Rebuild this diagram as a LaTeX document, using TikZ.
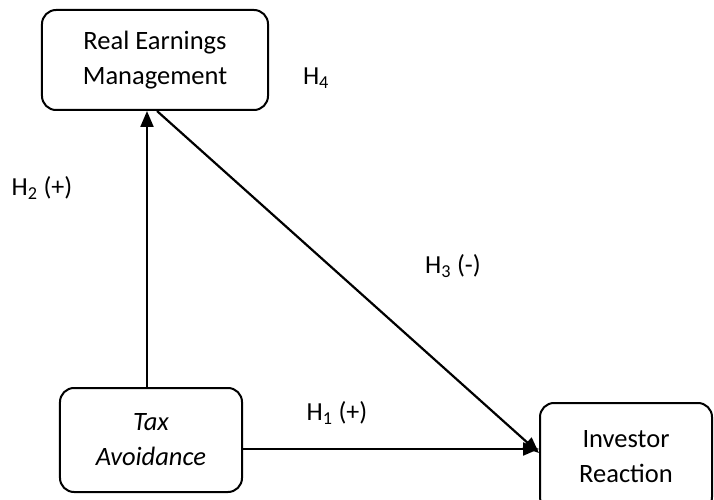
\documentclass[tikz,border=0pt]{standalone}
\usepackage{fontspec}
\setmainfont{Carlito}
\usetikzlibrary{arrows.meta,calc}
\begin{document}
\begin{tikzpicture}[x=1bp,y=-1bp,
  construct/.style={draw, line width=2bp, rounded corners=14bp, align=center,
    font=\fontsize{26.5bp}{35bp}\selectfont, inner sep=0pt},
  link/.style={line width=2.2bp, -{Triangle[length=16bp,width=13bp]}},
  hyp/.style={font=\fontsize{26bp}{30bp}\selectfont, inner sep=0pt}]
  \useasboundingbox (0,0) rectangle (714,500);
  \clip (0,0) rectangle (714,500);

  % constructs
  \node[construct, minimum width=226bp, minimum height=100bp] (rem) at (155,60)
    {Real Earnings\\Management};
  \node[construct, minimum width=182bp, minimum height=104bp] (tax) at (151,440)
    {\itshape Tax\\\itshape Avoidance};
  \node[construct, minimum width=172bp, minimum height=108bp] (inv) at (626,457)
    {Investor\\Reaction};

  % hypothesised paths
  \coordinate (taxtop) at ([xshift=-4bp]tax.north);
  \draw[link] (taxtop) -- (taxtop |- rem.south);
  \coordinate (remfoot) at ([xshift=2bp]rem.south);
  \draw[link] (remfoot) -- ([yshift=4bp]inv.west);
  \coordinate (taxside) at ([yshift=-9bp]tax.east);
  \draw[link] (taxside) -- (taxside -| inv.west);

  % hypothesis labels
  \node[hyp] (h4) at (316,78) {H\textsubscript{4}};
  \node[hyp] (h2) at (42,188) {H\textsubscript{2} (+)};
  \node[hyp] (h3) at (453,266) {H\textsubscript{3} (-)};
  \node[hyp] (h1) at (337,413) {H\textsubscript{1} (+)};
\end{tikzpicture}
\end{document}
